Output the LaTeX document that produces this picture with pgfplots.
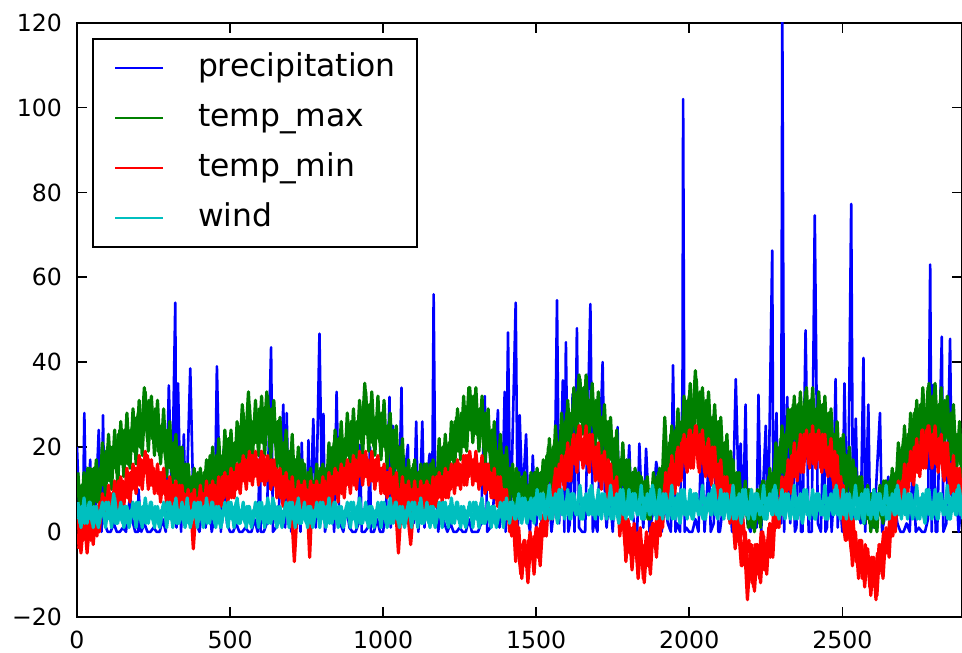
\documentclass[border=0pt]{standalone}
\usepackage{fontspec}
\setmainfont{DejaVu Sans}
\usepackage{pgfplots}
\usepackage{pgfplotstable}
\pgfplotsset{compat=1.18}

\definecolor{mplblue}{rgb}{0,0,1}
\definecolor{mplgreen}{rgb}{0,0.5,0}
\definecolor{mplred}{rgb}{1,0,0}
\definecolor{mplcyan}{rgb}{0,0.75,0.75}

% daily weather: days 0, 10, 20, ...
\pgfplotstableread{
x tmax tmin wind
0 13 -3 6
10 5 1 2
20 11 -2 5
30 6 2 3
40 15 -1 7
50 9 3 2
60 15 0 4
70 8 6 1
80 15 4 6
90 12 8 3
100 20 5 5
110 14 9 3
120 19 6 9
130 14 11 2
140 24 7 4
150 18 12 2
160 24 9 6
170 17 13 1
180 23 10 5
190 20 15 3
200 28 12 6
210 22 17 2
220 34 14 5
230 22 18 3
240 30 11 7
250 23 15 2
260 27 10 4
270 18 14 1
280 23 9 6
290 17 12 3
300 22 7 5
310 14 11 3
320 17 6 7
330 10 10 2
340 17 5 4
350 9 9 2
360 13 4 8
370 7 8 1
380 11 -4 5
390 8 7 3
400 13 5 6
410 8 9 2
420 13 6 5
430 8 10 3
440 17 6 7
450 11 11 2
460 17 7 4
470 10 12 1
480 17 8 6
490 14 13 3
500 21 9 5
510 15 14 3
520 21 10 7
530 16 15 2
540 30 12 4
550 20 17 2
560 33 13 6
570 19 18 1
580 25 13 5
590 22 17 3
600 29 12 6
610 22 18 2
620 33 12 5
630 20 16 3
640 29 11 8
650 20 15 2
660 23 9 4
670 14 13 1
680 18 8 6
690 12 12 3
700 18 6 5
710 10 -7 3
720 14 6 7
730 8 11 2
740 15 5 4
750 8 10 2
760 13 -6 6
770 7 11 1
780 12 6 5
790 8 11 3
800 15 7 6
810 9 12 2
820 15 7 5
830 10 13 3
840 21 9 7
850 15 14 2
860 21 10 4
870 14 15 1
880 21 11 6
890 18 16 3
900 26 12 5
910 20 17 3
920 26 13 7
930 21 18 2
940 35 13 4
950 24 17 2
960 29 12 6
970 20 16 1
980 26 12 5
990 21 15 3
1000 28 10 6
1010 19 14 2
1020 23 9 5
1030 15 12 3
1040 23 7 7
1050 14 -5 2
1060 18 7 4
1070 10 11 1
1080 15 5 6
1090 10 -3 3
1100 16 6 5
1110 8 10 3
1120 13 5 7
1130 7 10 2
1140 16 6 4
1150 10 11 2
1160 15 7 6
1170 8 12 1
1180 15 8 5
1190 12 13 3
1200 20 9 6
1210 15 14 2
1220 21 10 5
1230 17 15 3
1240 27 11 7
1250 22 16 2
1260 28 12 4
1270 21 18 1
1280 34 13 6
1290 25 17 3
1300 31 12 5
1310 23 16 3
1320 27 11 7
1330 19 15 2
1340 27 10 4
1350 18 14 2
1360 22 8 6
1370 12 12 1
1380 17 6 5
1390 11 10 3
1400 17 3 6
1410 9 7 3
1420 13 -1 7
1430 6 4 3
1440 14 -3 8
1450 7 -10 4
1460 12 -2 6
1470 4 -8 2
1480 10 0 7
1490 7 -6 4
1500 14 1 8
1510 8 -4 4
1520 14 3 7
1530 9 0 3
1540 20 8 9
1550 14 5 5
1560 21 13 6
1570 14 9 2
1580 22 16 8
1590 19 11 4
1600 28 19 7
1610 22 14 3
1620 29 22 9
1630 24 16 4
1640 37 25 6
1650 28 17 3
1660 33 23 8
1670 24 16 4
1680 29 22 11
1690 24 14 5
1700 30 20 8
1710 21 13 4
1720 25 18 7
1730 17 10 3
1740 25 15 9
1750 16 8 5
1760 20 12 6
1770 10 2 2
1780 15 6 8
1790 10 -3 4
1800 16 3 7
1810 8 -5 3
1820 12 2 9
1830 5 -7 4
1840 13 1 6
1850 6 -11 3
1860 11 0 8
1870 3 -6 4
1880 10 2 11
1890 6 -3 5
1900 14 6 8
1910 9 1 4
1920 27 11 7
1930 12 7 3
1940 23 16 9
1950 18 10 5
1960 25 19 6
1970 19 13 2
1980 26 22 8
1990 24 15 4
2000 32 24 7
2010 25 16 3
2020 38 25 9
2030 24 15 4
2040 32 22 6
2050 25 14 3
2060 29 21 8
2070 20 12 4
2080 24 19 11
2090 19 10 5
2100 24 16 8
2110 15 8 4
2120 18 12 7
2130 10 3 3
2140 17 6 9
2150 8 -4 5
2160 12 2 6
2170 3 -8 2
2180 8 -2 8
2190 3 -16 4
2200 9 -5 7
2210 2 -13 3
2220 7 -3 9
2230 2 -11 4
2240 12 0 6
2250 6 -8 3
2260 13 1 8
2270 7 -3 4
2280 15 5 11
2290 13 2 5
2300 22 10 8
2310 17 6 4
2320 24 14 7
2330 20 10 3
2340 30 18 9
2350 24 13 5
2360 29 21 6
2370 22 15 2
2380 33 22 8
2390 24 16 4
2400 31 23 7
2410 23 16 3
2420 28 22 9
2430 21 15 4
2440 30 21 6
2450 22 14 3
2460 25 19 8
2470 16 12 4
2480 20 17 11
2490 15 8 5
2500 20 4 8
2510 12 -2 4
2520 15 2 7
2530 8 -5 3
2540 15 0 9
2550 7 -8 5
2560 11 -2 6
2570 2 -10 2
2580 7 -4 8
2590 2 -13 4
2600 9 -6 7
2610 2 -16 3
2620 8 -3 9
2630 3 -10 4
2640 12 0 6
2650 6 -5 3
2660 13 3 8
2670 7 1 4
2680 15 9 11
2690 13 5 5
2700 22 13 8
2710 17 9 4
2720 23 16 7
2730 19 12 3
2740 29 20 9
2750 24 14 5
2760 30 24 6
2770 22 16 2
2780 34 25 8
2790 25 17 4
2800 32 23 7
2810 24 16 3
2820 29 22 9
2830 22 13 4
2840 30 19 6
2850 22 11 3
2860 26 16 8
2870 16 8 4
2880 20 13 11
2890 15 6 5
}\weatherA

% days 5, 15, 25, ...
\pgfplotstableread{
x tmax tmin wind
5 5 -4 3
15 11 1 6
25 7 -1 2
35 15 2 5
45 7 -2 3
55 15 2 6
65 7 -1 2
75 15 7 5
85 11 4 4
95 19 8 7
105 12 4 3
115 20 9 6
125 15 7 2
135 23 12 5
145 16 7 3
155 24 11 6
165 16 8 2
175 24 14 5
185 19 11 4
195 27 15 7
205 20 11 3
215 28 16 6
225 24 14 2
235 31 17 5
245 22 11 3
255 29 14 6
265 19 9 2
275 25 14 5
285 19 10 4
295 24 12 7
305 15 6 3
315 21 11 6
325 14 7 2
335 20 11 5
345 10 5 3
355 16 8 6
365 6 3 2
375 13 9 5
385 7 5 4
395 14 8 7
405 6 4 3
415 14 9 6
425 10 7 2
435 18 11 5
445 10 6 3
455 18 10 6
465 10 6 2
475 18 13 5
485 14 9 4
495 22 13 7
505 13 8 3
515 21 14 6
525 17 11 2
535 25 16 5
545 18 12 3
555 26 15 6
565 18 12 2
575 26 18 5
585 21 14 4
595 29 17 7
605 21 12 3
615 28 17 6
625 23 13 2
635 29 17 5
645 21 11 3
655 26 13 6
665 15 8 2
675 21 13 5
685 14 9 4
695 19 11 7
705 12 6 3
715 17 10 6
725 11 7 2
735 17 11 5
745 8 6 3
755 14 9 6
765 5 5 2
775 12 11 5
785 8 7 4
795 15 11 7
805 7 6 3
815 15 11 6
825 12 9 2
835 20 13 5
845 14 9 3
855 22 12 6
865 14 9 2
875 22 15 5
885 18 12 4
895 26 15 7
905 18 11 3
915 26 16 6
925 22 14 2
935 30 18 5
945 23 13 3
955 30 16 6
965 21 12 2
975 27 17 5
985 22 13 4
995 28 15 7
1005 20 9 3
1015 25 14 6
1025 19 10 2
1035 24 13 5
1045 15 8 3
1055 20 10 6
1065 10 6 2
1075 15 11 5
1085 9 7 4
1095 15 10 7
1105 8 5 3
1115 14 10 6
1125 9 7 2
1135 16 11 5
1145 8 6 3
1155 16 10 6
1165 7 6 2
1175 15 13 5
1185 12 9 4
1195 20 13 7
1205 12 8 3
1215 21 14 6
1225 17 11 2
1235 26 16 5
1245 19 11 3
1255 28 15 6
1265 20 11 2
1275 28 18 5
1285 24 14 4
1295 32 17 7
1305 23 12 3
1315 29 16 6
1325 23 13 2
1335 28 16 5
1345 19 10 3
1355 24 13 6
1365 14 8 2
1375 19 13 5
1385 13 8 4
1395 18 10 7
1405 9 3 3
1415 15 6 7
1425 9 1 4
1435 15 3 6
1445 6 -4 3
1455 13 -3 8
1465 4 -8 4
1475 11 -2 7
1485 6 -5 3
1495 14 -1 8
1505 6 -6 4
1515 14 2 9
1525 10 -1 5
1535 18 7 7
1545 12 3 3
1555 20 10 8
1565 13 6 5
1575 21 16 10
1585 18 12 4
1595 26 18 7
1605 20 12 4
1615 28 20 9
1625 25 16 5
1635 33 23 7
1645 26 17 3
1655 34 22 8
1665 25 16 5
1675 31 23 10
1685 25 17 4
1695 31 20 7
1705 22 12 4
1715 27 18 9
1725 21 12 5
1735 26 17 7
1745 17 8 3
1755 22 12 8
1765 12 4 5
1775 17 8 10
1785 11 1 4
1795 17 3 7
1805 8 -5 4
1815 14 1 9
1825 8 -5 5
1835 14 0 7
1845 5 -8 3
1855 12 -3 8
1865 3 -8 5
1875 10 1 10
1885 6 -2 4
1895 13 4 7
1905 6 -1 4
1915 15 9 9
1925 12 7 5
1935 21 15 7
1945 15 10 3
1955 24 16 8
1965 17 11 5
1975 26 21 10
1985 22 17 4
1995 31 22 7
2005 24 15 4
2015 31 23 9
2025 27 18 5
2035 33 23 7
2045 24 16 3
2055 31 20 8
2065 21 13 5
2075 27 20 10
2085 20 14 4
2095 26 16 7
2105 16 8 4
2115 21 13 9
2125 14 6 5
2135 19 11 7
2145 9 2 3
2155 14 5 8
2165 4 -3 5
2175 10 3 10
2185 4 -4 4
2195 10 -2 7
2205 1 -12 4
2215 8 -3 9
2225 3 -10 5
2235 11 0 7
2245 4 -9 3
2255 12 -2 8
2265 5 -6 5
2275 14 4 10
2285 11 1 4
2295 20 8 7
2305 14 4 4
2315 23 13 9
2325 20 10 5
2335 29 18 7
2345 22 13 3
2355 30 19 8
2365 21 14 5
2375 29 23 10
2385 24 18 4
2395 31 23 7
2405 23 16 4
2415 29 23 9
2425 24 17 5
2435 30 23 7
2445 22 15 3
2455 28 20 8
2465 17 13 5
2475 23 19 10
2485 16 12 4
2495 22 13 7
2505 12 2 4
2515 18 6 9
2525 11 -2 5
2535 17 3 7
2545 7 -7 3
2555 13 -2 8
2565 3 -11 5
2575 9 -3 10
2585 3 -9 4
2595 9 -6 7
2605 1 -13 4
2615 8 -5 9
2625 4 -8 5
2635 12 0 7
2645 4 -5 3
2655 12 3 8
2665 5 -1 5
2675 14 9 10
2685 11 6 4
2695 20 12 7
2705 14 7 4
2715 23 16 9
2725 19 12 5
2735 28 20 7
2745 21 14 3
2755 30 20 8
2765 22 15 5
2775 29 24 10
2785 25 19 4
2795 32 23 7
2805 24 16 4
2815 30 22 9
2825 25 16 5
2835 31 21 7
2845 22 13 3
2855 28 16 8
2865 18 9 5
2875 23 15 10
2885 16 9 4
2895 22 11 7
}\weatherB

% days 3, 13, 23, ...: the highs and lows of each band
\pgfplotstableread{
x tmax tmin wind
3 14 3 7
13 3 -5 1
23 14 4 8
33 5 -5 2
43 15 4 7
53 6 -3 1
63 17 6 6
73 6 0 2
83 21 9 7
93 8 2 1
103 23 11 7
113 10 3 1
123 24 12 8
133 11 5 2
143 26 13 7
153 13 6 1
163 28 15 6
173 15 7 2
183 29 16 7
193 16 9 1
203 31 18 7
213 18 10 1
223 33 19 8
233 19 10 2
243 32 17 7
253 18 9 1
263 31 16 6
273 16 7 2
283 29 15 7
293 13 6 1
303 26 13 7
313 11 5 1
323 23 12 8
333 8 4 2
343 20 11 7
353 7 3 1
363 16 10 6
373 6 2 2
383 15 10 7
393 5 2 1
403 15 11 7
413 6 3 1
423 17 12 8
433 6 4 2
443 20 12 7
453 7 5 1
463 22 13 6
473 9 6 2
483 24 14 7
493 11 7 1
503 24 15 7
513 11 8 1
523 26 16 8
533 13 9 2
543 28 18 7
553 15 10 1
563 30 19 6
573 17 11 2
583 31 19 7
593 18 11 1
603 32 19 7
613 18 11 1
623 32 18 8
633 17 10 2
643 31 17 7
653 15 8 1
663 27 15 6
673 12 6 2
683 24 14 7
693 8 5 1
703 23 13 7
713 7 4 1
723 20 12 8
733 7 4 2
743 16 12 7
753 5 4 1
763 15 12 6
773 5 4 2
783 16 12 7
793 6 5 1
803 16 13 7
813 7 5 1
823 21 14 8
833 8 6 2
843 24 15 7
853 11 7 1
863 26 16 6
873 13 8 2
883 28 17 7
893 15 9 1
903 29 18 7
913 16 10 1
923 31 19 8
933 18 11 2
943 33 19 7
953 19 11 1
963 33 19 6
973 18 10 2
983 32 18 7
993 17 9 1
1003 31 16 7
1013 15 8 1
1023 28 15 8
1033 12 6 2
1043 25 14 7
1053 9 5 1
1063 22 13 6
1073 6 4 2
1083 17 12 7
1093 6 4 1
1103 17 12 7
1113 6 4 1
1123 16 12 8
1133 6 4 2
1143 16 12 7
1153 7 5 1
1163 17 13 6
1173 6 6 2
1183 22 14 7
1193 9 7 1
1203 23 15 7
1213 11 8 1
1223 26 16 8
1233 14 9 2
1243 29 17 7
1253 17 10 1
1263 32 18 6
1273 19 11 2
1283 34 19 7
1293 21 11 1
1303 34 19 7
1313 19 10 1
1323 32 18 8
1333 16 9 2
1343 29 16 7
1353 13 8 1
1363 26 15 6
1373 10 6 2
1383 23 13 7
1393 7 4 1
1403 20 10 8
1413 7 0 2
1423 16 6 7
1433 5 -7 3
1443 14 1 9
1453 4 -11 2
1463 14 -2 8
1473 4 -12 3
1483 14 -1 8
1493 5 -10 2
1503 15 1 10
1513 6 -8 3
1523 17 4 9
1533 6 -1 4
1543 22 11 11
1553 9 3 3
1563 25 15 9
1573 12 7 4
1583 28 18 10
1593 15 10 3
1603 31 21 10
1613 18 12 3
1623 34 23 9
1633 21 14 4
1643 36 25 11
1653 23 15 3
1663 37 25 9
1673 22 14 4
1683 35 23 10
1693 20 12 3
1703 33 21 10
1713 17 10 3
1723 30 19 9
1733 14 8 4
1743 27 16 11
1753 11 5 3
1763 24 13 9
1773 8 -1 4
1783 21 7 10
1793 6 -7 3
1803 17 2 10
1813 6 -9 3
1823 15 0 9
1833 4 -11 4
1843 13 -2 11
1853 3 -12 3
1863 13 -1 9
1873 3 -10 4
1883 14 2 10
1893 4 -6 3
1903 15 8 10
1913 7 1 3
1923 21 14 9
1933 9 6 4
1943 25 18 11
1953 13 9 3
1963 29 20 9
1973 17 12 4
1983 32 23 10
1993 20 14 3
2003 35 24 10
2013 21 15 3
2023 36 25 9
2033 21 14 4
2043 34 24 11
2053 20 13 3
2063 33 22 9
2073 18 11 4
2083 30 20 10
2093 15 8 3
2103 27 17 10
2113 11 5 3
2123 23 13 9
2133 7 2 4
2143 17 10 11
2153 5 -2 3
2163 14 4 9
2173 3 -8 4
2183 12 0 10
2193 1 -12 3
2203 10 -3 10
2213 0 -14 3
2223 10 -3 9
2233 1 -12 4
2243 12 -1 11
2253 3 -10 3
2263 15 2 9
2273 7 -6 4
2283 21 8 10
2293 9 1 3
2303 25 13 10
2313 13 5 3
2323 29 17 9
2333 17 9 4
2343 32 21 11
2353 19 12 3
2363 33 23 9
2373 20 14 4
2383 34 24 10
2393 20 15 3
2403 34 25 10
2413 19 15 3
2423 33 24 9
2433 18 14 4
2443 32 23 11
2453 17 13 3
2463 29 22 9
2473 14 10 4
2483 26 18 10
2493 11 5 3
2503 23 11 10
2513 8 -2 3
2523 20 4 9
2533 7 -8 4
2543 15 0 11
2553 4 -11 3
2563 13 -2 9
2573 2 -13 4
2583 11 -4 10
2593 0 -15 3
2603 10 -6 10
2613 0 -15 3
2623 11 -3 9
2633 2 -11 4
2643 12 1 11
2653 3 -6 3
2663 15 8 9
2673 7 0 4
2683 21 12 10
2693 9 4 3
2703 25 16 10
2713 13 8 3
2723 28 19 9
2733 16 11 4
2743 31 22 11
2753 19 13 3
2763 34 24 9
2773 20 15 4
2783 35 25 10
2793 21 15 3
2803 35 25 10
2813 20 14 3
2823 34 23 9
2833 19 12 4
2843 32 21 11
2853 17 9 3
2863 30 18 9
2873 14 6 4
2883 26 15 10
2893 11 3 3
}\weatherC

% precipitation: background level plus the single-day spikes
\pgfplotstableread{
x prcp
0 20
10 0
20 6
24 28
30 1
40 10
43 17
50 0
60 4
71 24
80 0
85 27.5
90 2
100 0
110 0
120 2
130 0
140 0
150 1
160 0
174 9
180 3
190 0
200 0
201 10
210 0
220 2
230 0
240 0
250 1
260 0
270 0
280 3
290 0
300 34.5
310 6
321 54
325 1
330 35
340 0
349 23
355 4
360 13
370 38.5
380 7
390 2
400 0
410 6
420 1
430 10
440 0
450 4
457 39
465 13
470 0
479 19.5
485 7
490 2
500 0
510 0
520 2
530 0
540 0
550 1
560 0
570 0
580 3
590 0
598 19
600 0
610 0
620 2
634 43.5
640 0
650 1
660 6
674 30
680 1
685 28
690 10
700 0
710 4
720 13
730 0
734 21
740 7
750 2
756 21.6
760 0
772 26.6
780 1
792 46.7
800 10
805 27.8
810 0
820 4
830 13
840 0
848 33
855 7
860 2
870 0
880 6
890 1
900 0
910 0
920 2
924 20.5
930 0
940 0
950 1
957 20
960 0
970 0
980 3
990 0
1000 0
1010 6
1021 31.8
1025 1
1032 25
1040 10
1050 0
1060 34
1065 4
1070 13
1081 20.5
1085 0
1090 7
1100 2
1108 26
1115 0
1120 6
1128 26
1135 1
1140 10
1152 18.4
1160 4
1165 56
1170 13
1180 0
1190 7
1200 2
1210 0
1220 2
1230 0
1240 0
1250 1
1260 0
1270 0
1280 3
1290 0
1300 0
1310 0
1320 2
1332 32
1340 0
1350 1
1360 6
1375 28.7
1380 1
1390 10
1397 33
1400 0
1408 47
1415 4
1420 13
1433 54
1440 0
1446 27.5
1455 7
1467 23
1475 2
1480 0
1489 18
1495 6
1500 1
1510 10
1520 0
1530 4
1540 13
1550 0
1560 7
1568 54.6
1575 2
1587 35.7
1592 0
1597 44.7
1605 0
1610 2
1619 32.5
1625 0
1633 48
1640 1
1650 0
1660 0
1677 53.7
1685 0
1690 3
1700 0
1717 40
1725 6
1730 1
1740 10
1750 0
1766 24.7
1770 4
1780 13
1790 0
1804 20.4
1810 7
1820 2
1830 0
1837 20.8
1845 6
1850 1
1859 19.6
1865 10
1870 0
1880 4
1892 16.5
1900 13
1910 0
1920 7
1930 2
1940 0
1947 39.3
1955 0
1960 2
1970 0
1978 35
1980 102
1985 0
1990 1
2000 0
2010 0
2020 3
2030 0
2040 22
2050 0
2065 18
2070 0
2080 2
2090 20
2095 0
2100 0
2110 6
2120 15
2130 10
2140 0
2152 36
2160 13
2168 20.8
2175 0
2184 30
2190 2
2200 0
2210 6
2220 1
2226 32.3
2235 0
2250 25
2255 4
2260 13
2271 66.3
2275 0
2285 28
2290 7
2300 2
2304 122
2310 0
2320 31.8
2330 2
2340 25
2345 0
2350 1
2360 30
2365 0
2370 0
2380 47.5
2390 0
2400 0
2410 74.6
2420 2
2430 0
2440 30
2445 0
2450 1
2460 25
2465 0
2470 6
2478 36
2485 1
2490 10
2500 0
2507 35
2515 4
2520 13
2529 77.3
2535 0
2544 26.7
2550 7
2560 2
2569 41
2575 0
2585 30
2590 6
2600 1
2610 10
2623 28
2630 0
2640 4
2650 13
2660 0
2670 7
2680 2
2690 0
2700 0
2710 2
2720 0
2731 17
2740 0
2750 1
2760 0
2770 0
2780 3
2787 63
2792 0
2797 34.6
2805 0
2810 0
2825 46
2830 0
2840 2
2852 45.5
2858 6
2870 13
2880 0
2890 7
}\precip

\begin{document}
\begin{tikzpicture}
\begin{axis}[
    scale only axis,
    width=442.5pt, height=297pt,
    xmin=0, xmax=2891, ymin=-20, ymax=120,
    xtick={0,500,...,2500},
    xticklabels={0,500,1000,1500,2000,2500},
    ytick={-20,0,...,120},
    yticklabels={−20,0,20,40,60,80,100,120},
    tick align=inside,
    major tick length=5pt,
    every tick/.style={black,line width=0.8pt},
    axis line style={line width=1pt},
    tick label style={font=\fontsize{11.8}{14}\selectfont},
    xticklabel style={yshift=-3.6pt},
    yticklabel style={xshift=-4pt},
    every axis plot/.append style={line width=1.6pt, line join=round},
    legend image code/.code={\draw[#1,line width=1pt] (0pt,0pt) -- (24pt,0pt);},
    legend cell align=left,
    legend style={
        at={(0,1)}, anchor=north west, xshift=7.5pt, yshift=-7.7pt,
        draw=black, line width=1pt,
        font=\fontsize{15.7}{18}\selectfont,
        inner xsep=10.5pt, inner ysep=4.5pt, row sep=5pt,
        nodes={inner xsep=0pt, inner ysep=2pt, text height=12pt, text depth=4pt},
        /tikz/every odd column/.append style={column sep=17pt},
    },
]
\addplot[mplblue, line width=1.3pt] table[x=x, y=prcp] {\precip};
\addlegendentry{precipitation}
\addplot[mplgreen] table[x=x, y=tmax] {\weatherA};
\addlegendentry{temp\_max}
\addplot[mplgreen, forget plot] table[x=x, y=tmax] {\weatherB};
\addplot[mplgreen, forget plot] table[x=x, y=tmax] {\weatherC};
\addplot[mplred] table[x=x, y=tmin] {\weatherA};
\addlegendentry{temp\_min}
\addplot[mplred, forget plot] table[x=x, y=tmin] {\weatherB};
\addplot[mplred, forget plot] table[x=x, y=tmin] {\weatherC};
\addplot[mplcyan] table[x=x, y=wind] {\weatherA};
\addlegendentry{wind}
\addplot[mplcyan, forget plot] table[x=x, y=wind] {\weatherB};
\addplot[mplcyan, forget plot] table[x=x, y=wind] {\weatherC};
\end{axis}
\pgfresetboundingbox
\path[use as bounding box] ([xshift=-38.5pt,yshift=-18pt]current axis.south west)
    rectangle ([yshift=11.35pt]current axis.north east);
\end{tikzpicture}
\end{document}
